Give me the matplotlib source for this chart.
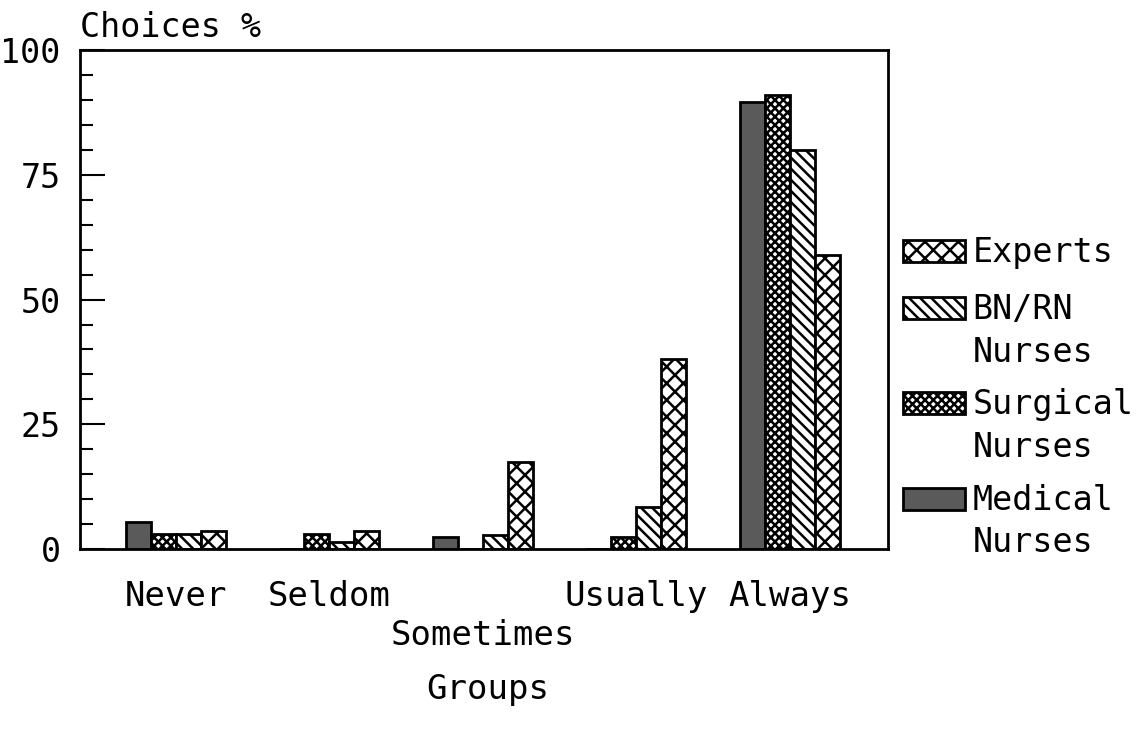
import numpy as np
import matplotlib.pyplot as plt
from matplotlib.patches import Rectangle

plt.rcParams['font.family'] = ['DejaVu Sans Mono']
plt.rcParams['hatch.linewidth'] = 1.8

# データ
groups = ['Never', 'Seldom', '\nSometimes', 'Usually', 'Always']
medical = [5.5, 0, 2.5, 0, 89.5]
surgical = [3.0, 3.0, 0, 2.5, 91.0]
bnrn = [3.0, 1.5, 2.8, 8.5, 80.0]
experts = [3.7, 3.7, 17.5, 38.0, 59.0]

series = [
    ('Medical\nNurses', medical, '#5a5a5a', ''),
    ('Surgical\nNurses', surgical, 'white', 'xxxx'),
    ('BN/RN\nNurses', bnrn, 'white', '\\\\\\'),
    ('Experts', experts, 'white', 'xx'),
]

fig = plt.figure(figsize=(11.43, 7.36), dpi=100)
ax = fig.add_axes([0.070, 0.254, 0.707, 0.678])

x = np.arange(1, len(groups) + 1)
w = 0.163
for k, (name, vals, fc, hatch) in enumerate(series):
    ax.bar(x + (k - 1.5) * w, vals, width=w, facecolor=fc, edgecolor='black',
           linewidth=2, hatch=hatch)

ax.set_xlim(0.375, 5.64)
ax.set_ylim(0, 100)
ax.set_xticks(x)
ax.set_xticklabels(groups, fontsize=24.5, linespacing=1.25)
ax.tick_params(axis='x', length=0, pad=22)
ax.set_yticks([0, 25, 50, 75, 100])
ax.set_yticks(np.arange(0, 101, 5), minor=True)
ax.tick_params(axis='y', which='major', direction='in', length=18, width=1.5, labelsize=24, pad=14)
ax.tick_params(axis='y', which='minor', direction='in', length=9, width=1.5)
for s in ax.spines.values():
    s.set_linewidth(2)

fig.text(0.070, 0.962, 'Choices %', fontsize=24, va='center', ha='left')
fig.text(0.427, 0.063, 'Groups', fontsize=24.5, va='center', ha='center')

# 凡例（手描き）
leg = [series[3], series[2], series[1], series[0]]
tops = [0.674, 0.596, 0.467, 0.337]
for (name, vals, fc, hatch), yt in zip(leg, tops):
    r = Rectangle((0.790, yt - 0.030), 0.054, 0.030, transform=fig.transFigure,
                  facecolor=fc, edgecolor='black', linewidth=2, hatch=hatch)
    fig.add_artist(r)
    fig.text(0.851, yt + 0.006, name, fontsize=24, va='top', ha='left', linespacing=1.38)

plt.savefig('out.png', dpi=100)
